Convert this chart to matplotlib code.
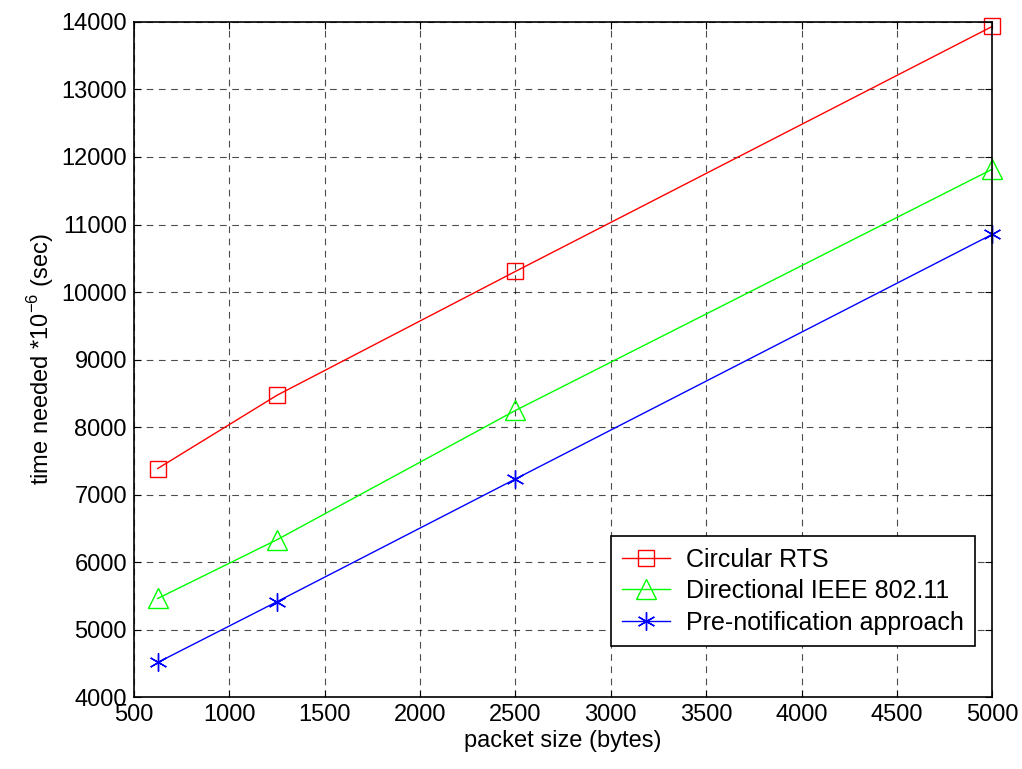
import matplotlib.pyplot as plt
import numpy as np

plt.rcParams['font.family'] = ['Liberation Sans', 'DejaVu Sans']
plt.rcParams['mathtext.fontset'] = 'custom'
plt.rcParams['mathtext.rm'] = 'Liberation Sans'

packet_size = [625, 1250, 2500, 5000]
circular_rts = [7385, 8470, 10305, 13935]
directional = [5460, 6330, 8245, 11820]
pre_notification = [4512, 5412, 7230, 10855]

fig = plt.figure(figsize=(10.22, 7.69), dpi=100)
ax = fig.add_axes([0.131, 0.0936, 0.84, 0.8778])

ax.plot(packet_size, circular_rts, color='red', marker='s', markersize=12,
        markerfacecolor='none', markeredgewidth=1, linewidth=1,
        label='Circular RTS', clip_on=False)
ax.plot(packet_size, directional, color='#00ff00', marker='^', markersize=14,
        markerfacecolor='none', markeredgewidth=1, linewidth=1,
        label='Directional IEEE 802.11', clip_on=False)
ax.plot(packet_size, pre_notification, color='blue', marker=(6, 2, 0), markersize=13,
        markeredgewidth=1, linewidth=1, label='Pre-notification approach', clip_on=False)

ax.set_xlim(500, 5000)
ax.set_ylim(4000, 14000)
ax.set_xticks(np.arange(500, 5001, 500))
ax.set_yticks(np.arange(4000, 14001, 1000))
ax.tick_params(direction='in', labelsize=17, length=5, pad=5, top=True, right=True)
ax.grid(True, color='black', linestyle=(0, (6, 5)), linewidth=0.8, alpha=0.7)
for s in ax.spines.values():
    s.set_linewidth(1.2)

ax.set_xlabel('packet size (bytes)', fontsize=17, labelpad=3)
ax.set_ylabel('time needed *10$^{-6}$ (sec)', fontsize=17, labelpad=4)

leg = ax.legend(loc='lower right', bbox_to_anchor=(0.980, 0.0756), fontsize=18,
                fancybox=False, edgecolor='black', framealpha=1, borderaxespad=0,
                handlelength=1.9, handletextpad=0.65, labelspacing=0.3, borderpad=0.45)
leg.get_frame().set_linewidth(1.2)

fig.savefig('out.png', dpi=100)
